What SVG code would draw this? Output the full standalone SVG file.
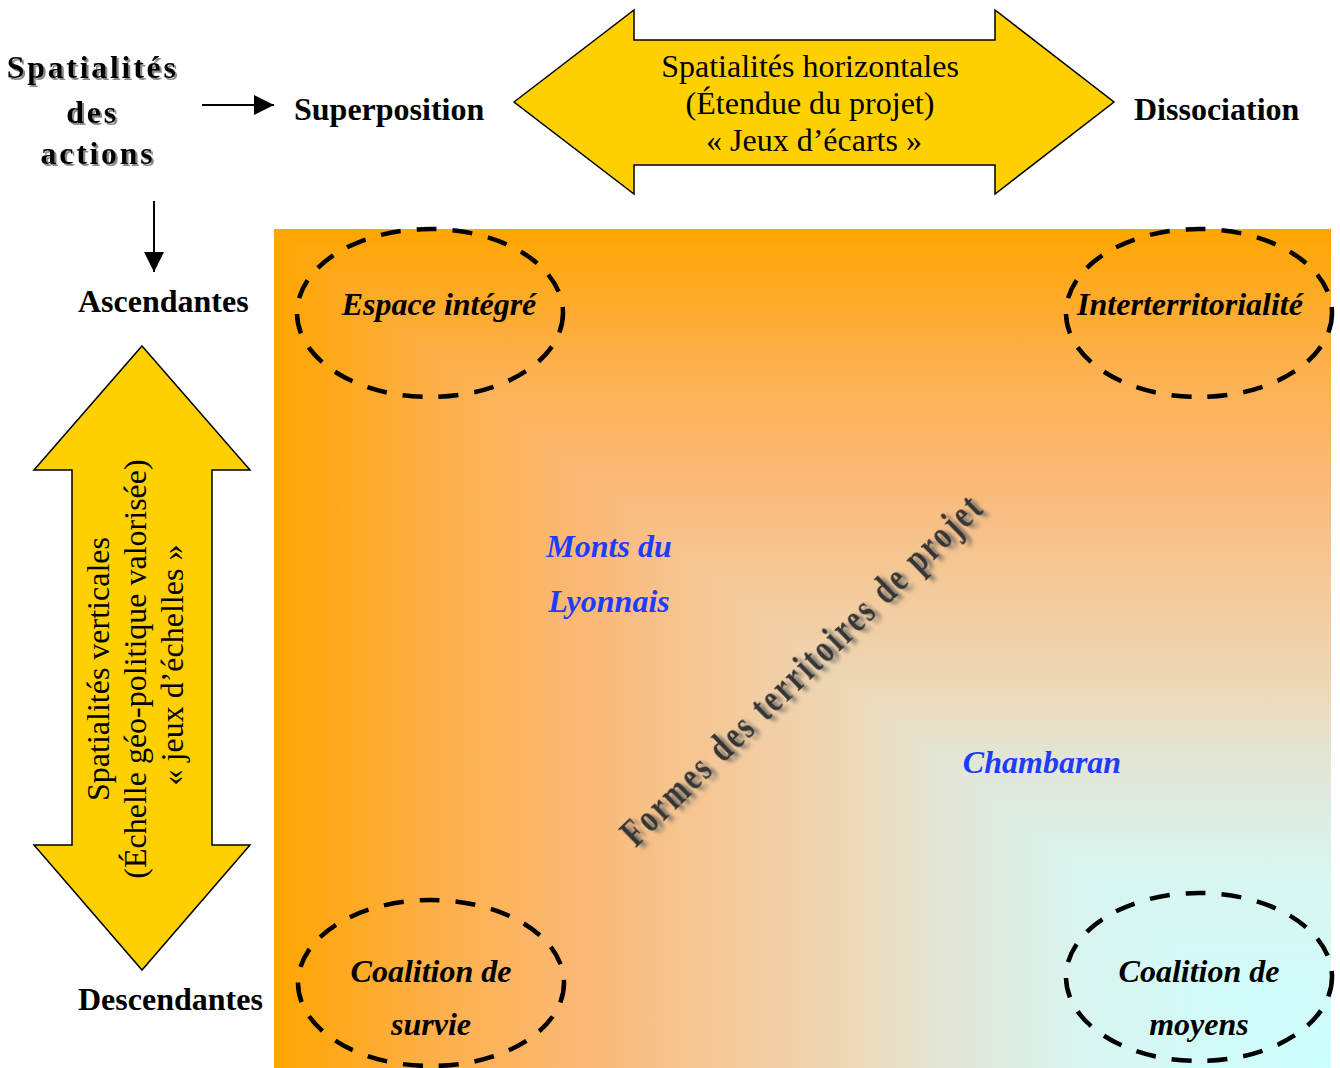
<svg xmlns="http://www.w3.org/2000/svg" width="1340" height="1068" viewBox="0 0 1340 1068">
<style>
  .serif { font-family: "Liberation Serif", "Times New Roman", serif; }
  .lbl { font-family: "Liberation Serif", "Times New Roman", serif; font-size: 32px; font-weight: bold; fill: #000; }
  .zone { font-family: "Liberation Serif", "Times New Roman", serif; font-size: 32px; font-weight: bold; font-style: italic; fill: #000; text-anchor: middle; }
  .place { font-family: "Liberation Serif", "Times New Roman", serif; font-size: 32px; font-weight: bold; font-style: italic; fill: #1E3CFF; text-anchor: middle; }
  .big { font-family: "Liberation Serif", "Times New Roman", serif; font-size: 32px; fill: #000; text-anchor: middle; }
  .dash { fill: none; stroke: #000; stroke-width: 4.5; stroke-dasharray: 20 16; }
  .yarrow { fill: #FFD000; stroke: #000; stroke-width: 1.5; stroke-linejoin: miter; }
  .conn { stroke: #000; stroke-width: 2; fill: none; }
</style>
<defs>
  <linearGradient id="gh" gradientUnits="userSpaceOnUse" x1="274" y1="0" x2="1331" y2="0">
    <stop offset="0" stop-color="#FFA500"/>
    <stop offset="0.15" stop-color="#FDAF48"/>
    <stop offset="0.3" stop-color="#FAB978"/>
    <stop offset="0.45" stop-color="#F3CCA0"/>
    <stop offset="0.55" stop-color="#EDD8B8"/>
    <stop offset="0.63" stop-color="#E3E5D6"/>
    <stop offset="0.77" stop-color="#D8F5F0"/>
    <stop offset="1" stop-color="#CCFFFF"/>
  </linearGradient>
  <linearGradient id="gv" gradientUnits="userSpaceOnUse" x1="0" y1="229" x2="0" y2="1068">
    <stop offset="0" stop-color="#FFA500"/>
    <stop offset="0.15" stop-color="#FDAF48"/>
    <stop offset="0.3" stop-color="#FAB978"/>
    <stop offset="0.45" stop-color="#F3CCA0"/>
    <stop offset="0.55" stop-color="#EDD8B8"/>
    <stop offset="0.63" stop-color="#E3E5D6"/>
    <stop offset="0.77" stop-color="#D8F5F0"/>
    <stop offset="1" stop-color="#CCFFFF"/>
  </linearGradient>
  <filter id="sh1" x="-10%" y="-10%" width="130%" height="140%">
    <feDropShadow dx="2" dy="2" stdDeviation="0.6" flood-color="#8a8a8a" flood-opacity="1"/>
  </filter>
  <filter id="sh2" x="-10%" y="-30%" width="130%" height="170%">
    <feDropShadow dx="4" dy="5" stdDeviation="2.5" flood-color="#666" flood-opacity="0.8"/>
  </filter>
  <marker id="ah" viewBox="0 0 20 20" refX="20" refY="10" markerWidth="20" markerHeight="20" markerUnits="userSpaceOnUse" orient="auto">
    <path d="M0,0 L20,10 L0,20 Z" fill="#000"/>
  </marker>
</defs>

<rect x="0" y="0" width="1340" height="1068" fill="#fff"/>

<g id="field">
  <rect x="274" y="229" width="1057" height="839" fill="url(#gh)"/>
  <polygon points="274,229 1331,229 1331,1068" fill="url(#gv)"/>
</g>

<g id="connectors">
  <line class="conn" x1="202" y1="105" x2="274" y2="105" marker-end="url(#ah)"/>
  <line class="conn" x1="154" y1="201" x2="154" y2="272" marker-end="url(#ah)"/>
</g>

<g id="title">
  <text class="serif" x="98" font-size="32" font-weight="bold" letter-spacing="2.7" text-anchor="middle" filter="url(#sh1)">
    <tspan x="98" y="78">Spatialités</tspan>
    <tspan x="98" y="123">des</tspan>
    <tspan x="98" y="164">actions</tspan>
  </text>
</g>

<g id="superposition"><text class="lbl" x="294" y="120">Superposition</text></g>
<g id="dissociation"><text class="lbl" x="1134" y="120">Dissociation</text></g>
<g id="ascendantes"><text class="lbl" x="78" y="312">Ascendantes</text></g>
<g id="descendantes"><text class="lbl" x="78" y="1010">Descendantes</text></g>

<g id="arrow-horizontal">
  <polygon class="yarrow" points="514,102 634,10 634,40 995,40 995,10 1114,102 995,194 995,165 634,165 634,194"/>
  <text class="big">
    <tspan x="814" y="77">Spatialités horizontales</tspan>
    <tspan x="814" y="114">(Étendue du projet)</tspan>
    <tspan x="814" y="151">« Jeux d’écarts »</tspan>
  </text>
</g>

<g id="arrow-vertical">
  <polygon class="yarrow" points="142,346 250,470 212,470 212,845 250,845 142,970 34,845 72,845 72,470 34,470"/>
  <text class="big" transform="translate(0,665) rotate(-90)">
    <tspan x="0" y="109">Spatialités verticales</tspan>
    <tspan x="0" y="146">(Échelle géo-politique valorisée)</tspan>
    <tspan x="0" y="183">« jeux d’échelles »</tspan>
  </text>
</g>

<g id="espace-integre">
  <ellipse class="dash" cx="430" cy="313" rx="133" ry="84"/>
  <text class="zone" x="439" y="315">Espace intégré</text>
</g>

<g id="interterritorialite">
  <ellipse class="dash" cx="1199" cy="313" rx="133" ry="84"/>
  <text class="zone" x="1190" y="315">Interterritorialité</text>
</g>

<g id="coalition-survie">
  <ellipse class="dash" cx="431" cy="983" rx="133" ry="83"/>
  <text class="zone"><tspan x="431" y="982">Coalition de</tspan><tspan x="431" y="1035">survie</tspan></text>
</g>

<g id="coalition-moyens">
  <ellipse class="dash" cx="1199" cy="977" rx="133" ry="84"/>
  <text class="zone"><tspan x="1199" y="982">Coalition de</tspan><tspan x="1199" y="1035">moyens</tspan></text>
</g>

<g id="monts-du-lyonnais">
  <text class="place"><tspan x="609" y="557">Monts du</tspan><tspan x="609" y="612">Lyonnais</tspan></text>
</g>

<g id="chambaran">
  <text class="place" x="1042" y="773">Chambaran</text>
</g>

<g id="formes">
  <text class="serif" transform="translate(810,680) rotate(-44) scale(0.74,1)" x="0" y="0" font-size="40" font-weight="bold" fill="#353535" text-anchor="middle" textLength="655" lengthAdjust="spacing" filter="url(#sh2)">Formes des territoires de projet</text>
</g>
</svg>
